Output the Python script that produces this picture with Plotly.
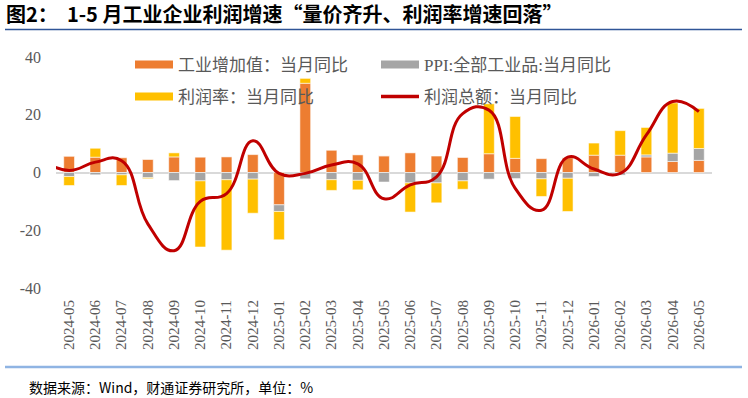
import plotly.graph_objects as go

# ---------------- data ----------------
months = ["2024-04", "2024-05", "2024-06", "2024-07", "2024-08", "2024-09", "2024-10",
          "2024-11", "2024-12", "2025-01", "2025-02", "2025-03", "2025-04",
          "2025-05", "2025-06", "2025-07", "2025-08", "2025-09", "2025-10",
          "2025-11", "2025-12", "2026-01", "2026-02", "2026-03", "2026-04", "2026-05"]
bar_months = months[1:]

# 工业增加值：当月同比
iva = [5.6, 5.3, 5.1, 4.5, 5.4, 5.3, 5.4, 6.2, -11.2, 30.9, 7.7, 6.1,
       5.8, 6.8, 5.7, 5.2, 6.5, 4.9, 4.8, 5.1, 6.0, 6.0, 5.4, 3.8, 4.2]
# PPI:全部工业品:当月同比
ppi = [-1.4, -0.8, -0.8, -1.8, -2.8, -2.9, -2.5, -2.3, -2.3, -2.2, -2.5, -2.7,
       -3.3, -3.6, -3.6, -2.9, -2.3, -2.1, -2.2, -2.0, -1.4, -0.9, 0.7, 2.9, 4.1]
# 利润率：当月同比
margin = [-3.1, 3.1, -3.7, -0.35, 1.4, -22.9, -24.4, -11.8, -9.8, 1.7, -3.7, -3.3,
          0.0, -10.1, -6.9, -2.9, 17.3, 14.5, -6.1, -11.5, 4.2, 8.5, 9.5, 17.4, 13.9]
# 利润总额：当月同比 (first value, 2024-04, lies just left of the plotted range)
profit = [4.0, 0.7, 3.6, 4.1, -17.8, -27.1, -10.0, -7.3, 11.0, -0.3, -0.3, 2.6, 3.0,
          -9.1, -4.3, -1.5, 20.4, 21.6, -5.5, -13.1, 5.3, 1.2, -0.3, 13.0, 24.6, 21.1]

names = ["工业增加值：当月同比", "PPI:全部工业品:当月同比", "利润率：当月同比", "利润总额：当月同比"]
colors = ["#ED7D31", "#A5A5A5", "#FFC000", "#C00000"]
y_ticks = [40, 20, 0, -20, -40]

title_text = "图2：  1-5 月工业企业利润增速“量价齐升、利润率增速回落”"
source_text = "数据来源：Wind，财通证券研究所，单位：%"

# ---------------- geometry helpers ----------------
W, H = 748, 398
L, R, T, B = 56, 712, 57, 288


def px_x(x):
    return (x - L) / (R - L)


def px_y(y):
    return (B - y) / (B - T)


SERIF_CJK = "Liberation Serif, Noto Sans CJK SC"

fig = go.Figure()

bar_series = [iva, ppi, margin]
for i, vals in enumerate(bar_series):
    fig.add_trace(go.Bar(
        x=bar_months, y=vals, name=names[i],
        marker=dict(color=colors[i], line=dict(color="rgba(255,255,255,0.55)", width=1)),
        showlegend=False, legendgroup=names[i],
    ))

fig.add_trace(go.Scatter(
    x=months, y=profit, name=names[3], mode="lines",
    line=dict(color=colors[3], width=3, shape="spline", smoothing=1.3),
    showlegend=False, legendgroup=names[3],
))

# legend-only entries (wide swatches like the original)
legend_of = ["legend", "legend", "legend2", "legend2"]
legend_w = [8, 8, 8, 3.5]
for i in range(4):
    fig.add_trace(go.Scatter(
        x=[None], y=[None], mode="lines", name=names[i],
        line=dict(color=colors[i], width=legend_w[i]),
        legend=legend_of[i], legendgroup=names[i], showlegend=True,
    ))

legend_common = dict(
    orientation="h", xref="container", yref="container",
    xanchor="left", yanchor="middle",
    font=dict(family=SERIF_CJK, size=17, color="#595959"),
    entrywidth=193, entrywidthmode="pixels", itemwidth=38,
    bgcolor="rgba(0,0,0,0)", itemclick=False, itemdoubleclick=False,
)

fig.update_layout(
    width=W, height=H,
    margin=dict(l=L, r=W - R, t=T, b=H - B, autoexpand=False),
    paper_bgcolor="white", plot_bgcolor="white",
    barmode="relative", bargap=0.59,
    showlegend=True,
    legend=dict(x=130 / W, y=1 - 65 / H, **legend_common),
    legend2=dict(x=130 / W, y=1 - 97 / H, **legend_common),
    title=dict(text=title_text, xref="container", yref="container",
               x=6 / W, y=1 - 15 / H, xanchor="left", yanchor="middle",
               font=dict(family="Noto Sans CJK SC", size=20, color="#000000", weight="bold")),
    xaxis=dict(type="category", categoryorder="array", categoryarray=months,
               range=[0.5, len(months) - 0.5], tickangle=-90,
               tickfont=dict(family="Liberation Serif", size=15, color="#595959"),
               showgrid=False, showline=False, ticks="", ticklabelstandoff=8,
               fixedrange=True),
    yaxis=dict(range=[-40, 40], tickvals=y_ticks, ticktext=[str(v) for v in y_ticks],
               tickfont=dict(family="Liberation Serif", size=16, color="#595959"),
               showgrid=False, showline=False, ticks="", ticklabelstandoff=14,
               zeroline=True, zerolinecolor="#D9D9D9", zerolinewidth=1.5,
               fixedrange=True),
    shapes=[
        dict(type="line", xref="paper", yref="paper", x0=px_x(5), x1=px_x(742),
             y0=px_y(29.5), y1=px_y(29.5), line=dict(color="#2F5597", width=1.5)),
        dict(type="line", xref="paper", yref="paper", x0=px_x(5), x1=px_x(742),
             y0=px_y(367), y1=px_y(367), line=dict(color="#8FB4E3", width=2.5)),
    ],
    annotations=[
        dict(text=source_text, xref="paper", yref="paper", x=px_x(27), y=px_y(387),
             xanchor="left", yanchor="middle", showarrow=False,
             font=dict(family="Noto Sans CJK SC", size=14, color="#000000")),
    ],
)

fig.write_html("out.html")
